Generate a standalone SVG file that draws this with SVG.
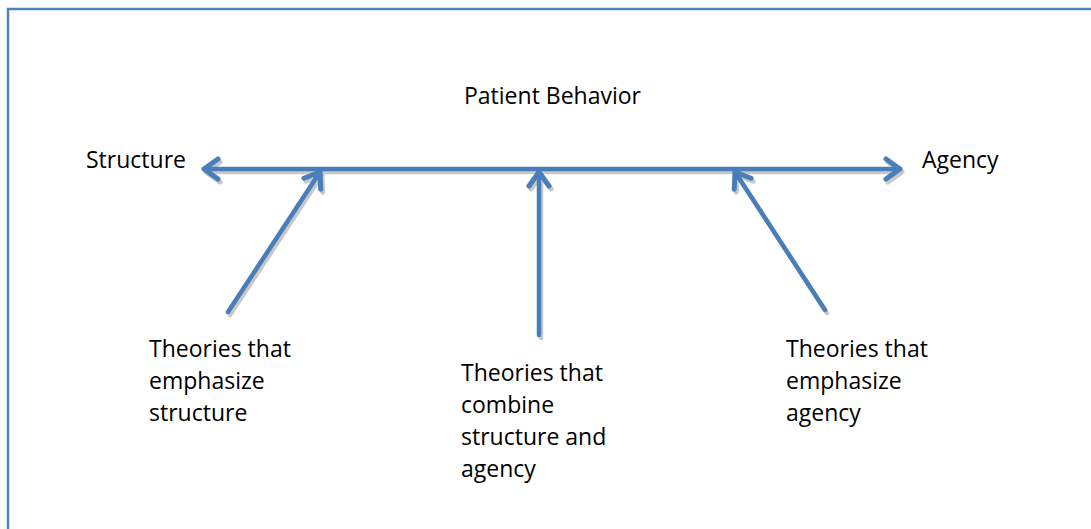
<svg xmlns="http://www.w3.org/2000/svg" width="1091" height="529" viewBox="0 0 1091 529">
<defs>
<style>
.t{font-family:"Open Sans","Liberation Sans",sans-serif;font-size:23px;fill:#000}
.ln{stroke:#4a7ebb;stroke-width:4.5;fill:none;stroke-linecap:round;stroke-linejoin:round}
.sh{stroke:#c8c8c8;stroke-width:4.5;fill:none;stroke-linecap:round;stroke-linejoin:round}
</style>
<marker id="ah" viewBox="0 0 26 26" refX="20" refY="13" markerWidth="26" markerHeight="26" markerUnits="userSpaceOnUse" orient="auto-start-reverse">
<path d="M6,3 L20,13 L6,23" fill="none" stroke="#4a7ebb" stroke-width="5" stroke-linecap="round" stroke-linejoin="round"/>
</marker>
<marker id="ahs" viewBox="0 0 26 26" refX="20" refY="13" markerWidth="26" markerHeight="26" markerUnits="userSpaceOnUse" orient="auto-start-reverse">
<path d="M6,3 L20,13 L6,23" fill="none" stroke="#c8c8c8" stroke-width="5" stroke-linecap="round" stroke-linejoin="round"/>
</marker>
</defs>
<rect width="1091" height="529" fill="#fff"/>
<path d="M8,529 V9 H1091" fill="none" stroke="#4f81bd" stroke-width="2.5"/>
<g id="connectors">
<g id="shadows">
<line class="sh" x1="206" y1="172" x2="902" y2="172" marker-start="url(#ahs)" marker-end="url(#ahs)"/>
<line class="sh" x1="230" y1="315" x2="322" y2="175" marker-end="url(#ahs)"/>
<line class="sh" x1="541" y1="338" x2="541" y2="175" marker-end="url(#ahs)"/>
<line class="sh" x1="827" y1="313" x2="737" y2="175" marker-end="url(#ahs)"/>
</g>
<line class="ln" x1="204" y1="169" x2="900" y2="169" marker-start="url(#ah)" marker-end="url(#ah)"/>
<line class="ln" x1="228" y1="312" x2="320" y2="172" marker-end="url(#ah)"/>
<line class="ln" x1="539" y1="335" x2="539" y2="172" marker-end="url(#ah)"/>
<line class="ln" x1="825" y1="310" x2="735" y2="172" marker-end="url(#ah)"/>
</g>
<g id="title"><text class="t" x="464" y="104">Patient Behavior</text></g>
<g id="structure"><text class="t" x="86" y="168">Structure</text></g>
<g id="agency"><text class="t" x="922" y="168">Agency</text></g>
<g id="theories-structure"><text class="t" x="149"><tspan x="149" y="357">Theories that</tspan><tspan x="149" y="389">emphasize</tspan><tspan x="149" y="421">structure</tspan></text></g>
<g id="theories-combine"><text class="t" x="461"><tspan x="461" y="381">Theories that</tspan><tspan x="461" y="413">combine</tspan><tspan x="461" y="445">structure and</tspan><tspan x="461" y="477">agency</tspan></text></g>
<g id="theories-agency"><text class="t" x="786"><tspan x="786" y="357">Theories that</tspan><tspan x="786" y="389">emphasize</tspan><tspan x="786" y="421">agency</tspan></text></g>
</svg>
